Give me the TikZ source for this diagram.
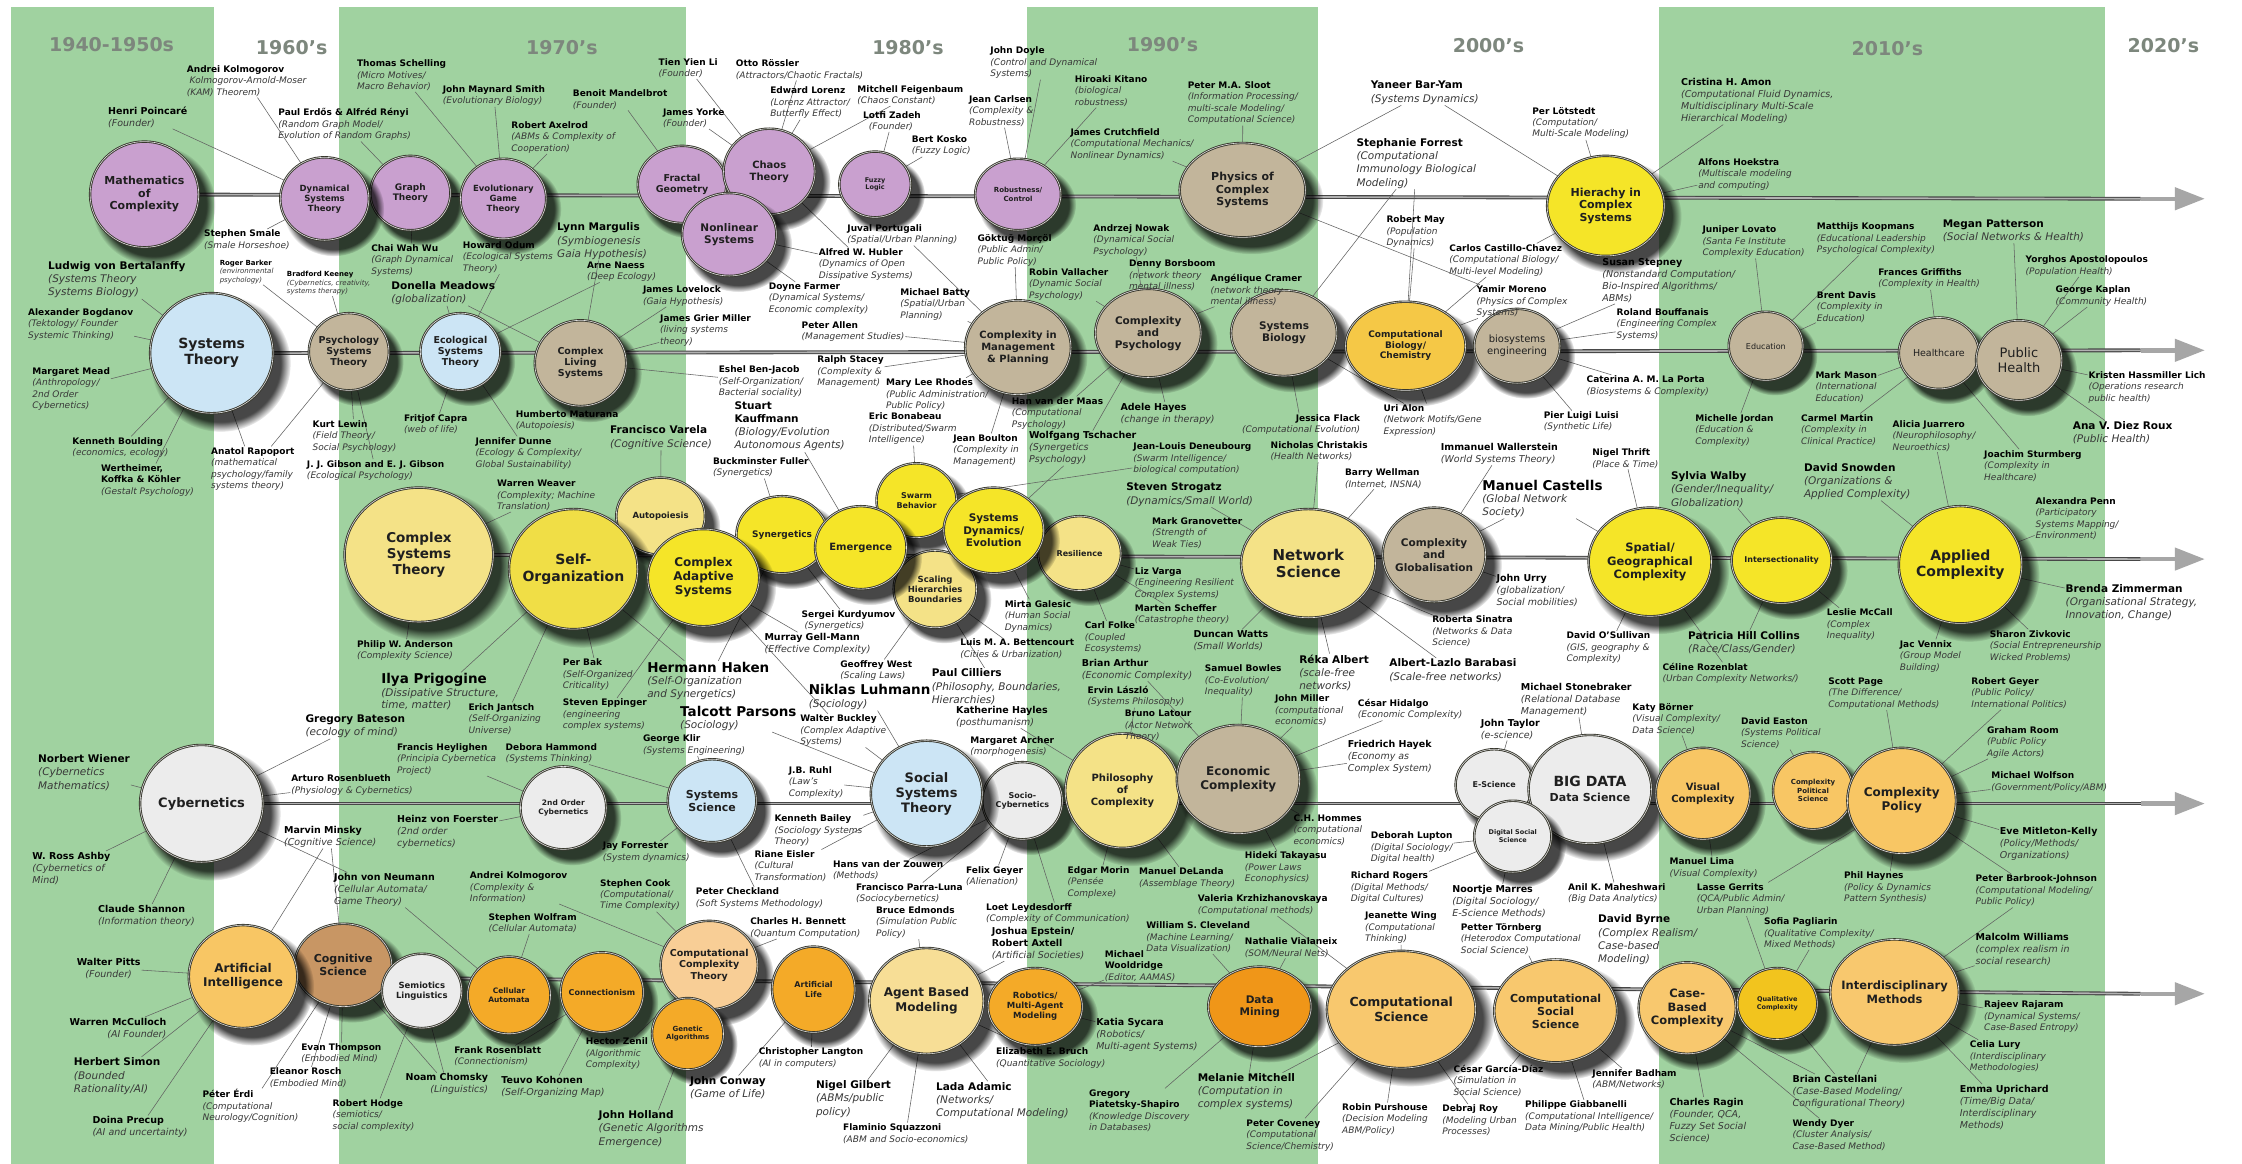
\documentclass[tikz,border=0pt]{standalone}
\usepackage{fontspec}
\setmainfont{DejaVu Sans}
\usetikzlibrary{shapes.geometric,shadows,arrows.meta}
\pgfdeclarelayer{bg}
\pgfdeclarelayer{conn}
\pgfsetlayers{bg,conn,main}
\definecolor{band}{RGB}{160,210,160}
\definecolor{decgray}{RGB}{125,135,125}
\definecolor{bord}{RGB}{55,55,45}
\definecolor{purp}{RGB}{201,160,207}
\definecolor{tan}{RGB}{194,181,155}
\definecolor{lblue}{RGB}{204,229,245}
\definecolor{pyel}{RGB}{244,226,135}
\definecolor{yel}{RGB}{245,229,40}
\definecolor{myel}{RGB}{240,222,70}
\definecolor{lgray}{RGB}{236,236,236}
\definecolor{lora}{RGB}{248,198,100}
\definecolor{brwn}{RGB}{200,150,100}
\definecolor{ora}{RGB}{244,170,40}
\definecolor{pora}{RGB}{248,206,150}
\definecolor{dora}{RGB}{240,150,24}
\definecolor{abmc}{RGB}{247,222,150}
\definecolor{csc}{RGB}{248,200,110}
\definecolor{qual}{RGB}{242,196,30}
\definecolor{cbio}{RGB}{245,200,70}
\tikzset{
  who/.style={anchor=north west,yshift=5.5pt,inner sep=0.8pt,align=left,text=black!78,font=\fontsize{9}{11.5}\selectfont\itshape},
  whoI/.style={who,font=\fontsize{9.5}{12}\selectfont\itshape},
  whoM/.style={who,font=\fontsize{10.5}{13.2}\selectfont\itshape},
  whoL/.style={who,font=\fontsize{10.5}{12.5}\selectfont\itshape},
  whoT/.style={who,font=\fontsize{7}{8.5}\selectfont\itshape},
  bubble/.style={ellipse,draw=bord,line width=0.9pt,double=white!75!gray,double distance=0.6pt,inner sep=0pt,outer sep=0pt,
    circular drop shadow={shadow xshift=8pt,shadow yshift=-9pt,shadow scale=1.14,opacity=0.72,fill=black}},
  btx/.style={align=center,inner sep=0pt,text=black!88},
  cn/.style={draw=black!62,line width=0.55pt},
  tline/.style={draw=black!72,line width=1.1pt,double=black!30,double distance=1.6pt},
  tarrow/.style={draw=black!35,line width=4.5pt,-{Triangle[length=30pt,width=22pt]}},
  dec/.style={font=\bfseries\fontsize{19}{21}\selectfont,text=decgray,inner sep=0pt},
}
\newcommand\nmx[1]{\textcolor{black}{\upshape\bfseries #1}}
\newcommand\perS[5]{\node[who,#3] (#1) at (#2) {\nmx{#4}\\#5};}
\newcommand\perT[5]{\node[whoT,#3] (#1) at (#2) {\nmx{#4}\\#5};}
\newcommand\perI[5]{\node[whoI,#3] (#1) at (#2) {\nmx{#4}\\#5};}
\newcommand\perM[5]{\node[whoM,#3] (#1) at (#2) {\nmx{#4}\\#5};}
\newcommand\perL[5]{\node[whoL,#3] (#1) at (#2) {{\fontsize{13.5}{16}\selectfont\nmx{#4}}\\#5};}
\newcommand\mkbub[8]{\node[bubble,fill=#5,minimum width={2.86*#3pt},minimum height={2.86*#4pt}] (#1) at (#2) {};
  \node[btx,font=\bfseries\fontsize{#6}{#7}\selectfont] (#1t) at (#1.center) {#8};}
\begin{document}
\begin{tikzpicture}[x=1.43pt,y=-1.43pt]
\begin{pgfonlayer}{bg}
\fill[white] (0,0) rectangle (1568,814);
\useasboundingbox (0,0) rectangle (1568,814);
\fill[band] (8,5) rectangle (150,814);
\fill[band] (237,5) rectangle (480,814);
\fill[band] (718,5) rectangle (922,814);
\fill[band] (1160,5) rectangle (1472,814);
\end{pgfonlayer}
% decades
\node[dec] (d1) at (78,31) {1940-1950s};
\node[dec] (d2) at (204,33) {1960's};
\node[dec] (d3) at (393,33) {1970's};
\node[dec] (d4) at (635,33) {1980's};
\node[dec] (d5) at (813,31) {1990's};
\node[dec] (d6) at (1041,32) {2000's};
\node[dec] (d7) at (1320,34) {2010's};
\node[dec] (d8) at (1513,32) {2020's};
% timeline coordinates
\foreach \i/\y in {1/139,2/245,3/391,4/562,5/695}{
  \coordinate (g\i) at (1497,\y);
  \coordinate (e\i) at (1542,\y);
}
% ---------- Row 1 bubbles
\mkbub{math}{101,136}{38}{37}{purp}{11}{12.5}{Mathematics\\of\\Complexity}
\mkbub{graph}{287,135}{28}{26}{purp}{9}{10.5}{Graph\\Theory}
\mkbub{dyn}{227,139}{31}{29}{purp}{8.5}{10}{Dynamical\\Systems\\Theory}
\mkbub{evol}{352,139}{30}{28}{purp}{8.5}{10}{Evolutionary\\Game\\Theory}
\mkbub{fractal}{477,129}{31}{27}{purp}{9.5}{11}{Fractal\\Geometry}
\mkbub{chaos}{538,120}{32}{30}{purp}{10}{11.5}{Chaos\\Theory}
\mkbub{nonlin}{510,164}{33}{29}{purp}{10.5}{12.5}{Nonlinear\\Systems}
\mkbub{fuzzy}{612,129}{25}{23}{purp}{6.5}{7.5}{Fuzzy\\Logic}
\mkbub{robust}{712,136}{30}{25}{purp}{7}{8.5}{Robustness/\\Control}
\mkbub{physics}{869,133}{44}{33}{tan}{11}{12.5}{Physics of\\Complex\\Systems}
\mkbub{hierarchy}{1123,144}{41}{35}{yel}{11}{12.5}{Hierachy in\\Complex\\Systems}
% ---------- Row 2 bubbles
\mkbub{systheory}{148,247}{43}{42}{lblue}{14}{16}{Systems\\Theory}
\mkbub{psych}{244,246}{28}{27}{tan}{9.5}{11}{Psychology\\Systems\\Theory}
\mkbub{ecol}{322,246}{28}{27}{lblue}{9.5}{11}{Ecological\\Systems\\Theory}
\mkbub{cliving}{406,254}{32}{30}{tan}{9.5}{11}{Complex\\Living\\Systems}
\mkbub{mgmt}{712,243}{37}{33}{tan}{10}{12}{Complexity in\\Management\\\& Planning}
\mkbub{cpsych}{803,233}{37}{31}{tan}{10.5}{12}{Complexity\\and\\Psychology}
\mkbub{sysbio}{898,233}{37}{30}{tan}{10.5}{12}{Systems\\Biology}
\mkbub{compbio}{983,242}{42}{31}{cbio}{9}{10.5}{Computational\\Biology/\\Chemistry}
\mkbub{biosys}{1061,242}{30}{26}{tan}{10}{12}{\mdseries biosystems\\\mdseries engineering}
\mkbub{education}{1235,242}{26}{24}{tan}{8}{9}{\mdseries Education}
\mkbub{healthcare}{1356,247}{28}{25}{tan}{9.5}{11}{\mdseries Healthcare}
\mkbub{publichealth}{1412,252}{30}{28}{tan}{13}{15}{\mdseries Public\\\mdseries Health}
% ---------- Row 3 bubbles
\mkbub{cst}{293,388}{52}{47}{pyel}{13.5}{16}{Complex\\Systems\\Theory}
\mkbub{autopoiesis}{462,361}{31}{27}{pyel}{8.5}{10}{Autopoiesis}
\mkbub{selforg}{401,398}{45}{42}{myel}{14}{16.5}{Self-\\Organization}
\mkbub{synergetics}{547,374}{32}{27}{yel}{9}{10.5}{Synergetics}
\mkbub{cas}{492,404}{39}{34}{yel}{12}{14}{Complex\\Adaptive\\Systems}
\mkbub{swarm}{641,350}{28}{26}{yel}{8}{9.5}{Swarm\\Behavior}
\mkbub{scaling}{654,412}{29}{27}{pyel}{8.5}{10}{Scaling\\Hierarchies\\Boundaries}
\mkbub{emergence}{602,383}{32}{29}{yel}{10}{12}{Emergence}
\mkbub{resilience}{755,387}{29}{26}{pyel}{8}{9.5}{Resilience}
\mkbub{sysdyn}{695,371}{35}{30}{yel}{10.5}{12.5}{Systems\\Dynamics/\\Evolution}
\mkbub{netsci}{915,394}{47}{38}{pyel}{15}{17.5}{Network\\Science}
\mkbub{glob}{1003,388}{36}{33}{tan}{10.5}{12.5}{Complexity\\and\\Globalisation}
\mkbub{spatial}{1154,393}{43}{38}{yel}{11.5}{13.5}{Spatial/\\Geographical\\Complexity}
\mkbub{intersect}{1246,392}{35}{30}{yel}{8}{9.5}{Intersectionality}
\mkbub{applied}{1371,395}{43}{41}{yel}{14}{16.5}{Applied\\Complexity}
% ---------- Row 4 bubbles
\mkbub{cyber}{141,562}{43}{41}{lgray}{13}{15}{Cybernetics}
\mkbub{secondorder}{394,565}{30}{29}{lgray}{7.5}{9}{2nd Order\\Cybernetics}
\mkbub{syssci}{498,560}{31}{29}{lblue}{11}{13}{Systems\\Science}
\mkbub{sociocyber}{715,560}{28}{27}{lgray}{8}{9.5}{Socio-\\Cybernetics}
\mkbub{socialsys}{648,555}{39}{37}{lblue}{13}{15}{Social\\Systems\\Theory}
\mkbub{philosophy}{785,553}{40}{40}{pyel}{10}{12}{Philosophy\\of\\Complexity}
\mkbub{economic}{866,545}{43}{38}{tan}{12}{14}{Economic\\Complexity}
\mkbub{escience}{1045,549}{27}{25}{lgray}{8}{9.5}{E-Science}
\mkbub{bigdata}{1112,552}{43}{38}{lgray}{14}{15}{BIG DATA\\{\fontsize{11}{13}\selectfont Data Science}}
\mkbub{digitalsoc}{1058,585}{27}{25}{lgray}{6.5}{8}{Digital Social\\Science}
\mkbub{visual}{1191,555}{33}{32}{lora}{10}{12}{Visual\\Complexity}
\mkbub{cpolsci}{1268,553}{28}{27}{lora}{7}{8.5}{Complexity\\Political\\Science}
\mkbub{cpolicy}{1330,560}{38}{37}{lora}{12}{14}{Complexity\\Policy}
% ---------- Row 5 bubbles
\mkbub{cogsci}{240,675}{34}{29}{brwn}{11}{13}{Cognitive\\Science}
\mkbub{ai}{170,683}{38}{36}{lora}{12}{14}{Artificial\\Intelligence}
\mkbub{semiotics}{295,693}{28}{26}{lgray}{8.5}{10}{Semiotics\\Linguistics}
\mkbub{cellular}{356,696}{29}{27}{ora}{7.5}{9}{Cellular\\Automata}
\mkbub{connect}{421,694}{29}{28}{ora}{8}{9.5}{Connectionism}
\mkbub{comptheory}{496,675}{34}{31}{pora}{9.5}{11.5}{Computational\\Complexity\\Theory}
\mkbub{genetic}{481,723}{25}{25}{ora}{7}{8.5}{Genetic\\Algorithms}
\mkbub{alife}{569,692}{29}{30}{ora}{8}{10}{Artificial\\Life}
\mkbub{abm}{648,700}{40}{37}{abmc}{12}{14.5}{Agent Based\\Modeling}
\mkbub{robotics}{724,704}{33}{27}{ora}{8.5}{10}{Robotics/\\Multi-Agent\\Modeling}
\mkbub{datamining}{881,704}{36}{28}{dora}{10.5}{12.5}{Data\\Mining}
\mkbub{compsci}{980,706}{52}{41}{csc}{12.5}{15}{Computational\\Science}
\mkbub{compsocsci}{1088,707}{43}{36}{csc}{11}{13}{Computational\\Social\\Science}
\mkbub{casebased}{1180,705}{34}{32}{csc}{11.5}{13.5}{Case-\\Based\\Complexity}
\mkbub{qualitative}{1243,702}{28}{25}{qual}{6.5}{8}{Qualitative\\Complexity}
\mkbub{interdisc}{1325,694}{45}{37}{csc}{11.5}{13.5}{Interdisciplinary\\Methods}
% ---------- People: row 1 top
\perS{kolmoA}{130,49}{}{Andrei Kolmogorov}{\ Kolmogorov-Arnold-Moser\\(KAM) Theorem)}
\perI{poincare}{75,78}{}{Henri Poincaré}{(Founder)}
\perS{schelling}{249,45}{}{Thomas Schelling}{(Micro Motives/\\Macro Behavior)}
\perS{erdos}{194,79}{}{Paul Erdős \& Alfréd Rényi}{(Random Graph Model/\\Evolution of Random Graphs)}
\perS{maynard}{309,63}{}{John Maynard Smith}{(Evolutionary Biology)}
\perS{axelrod}{357,88}{}{Robert Axelrod}{(ABMs \& Complexity of\\Cooperation)}
\perS{smale}{142,164}{}{Stephen Smale}{(Smale Horseshoe)}
\perS{mandelbrot}{400,66}{}{Benoit Mandelbrot}{(Founder)}
\perS{li}{460,44}{}{Tien Yien Li}{(Founder)}
\perS{rossler}{514,45}{}{Otto Rössler}{(Attractors/Chaotic Fractals)}
\perS{yorke}{463,79}{}{James Yorke}{(Founder)}
\perS{lorenz}{538,64}{}{Edward Lorenz}{(Lorenz Attractor/\\Butterfly Effect)}
\perS{feigenbaum}{599,63}{}{Mitchell Feigenbaum}{(Chaos Constant)}
\perS{zadeh}{603,81}{}{Lotfi Zadeh}{\ \ (Founder)}
\perS{kosko}{637,98}{}{Bert Kosko}{(Fuzzy Logic)}
\perS{doyle}{692,36}{}{John Doyle}{(Control and Dynamical\\Systems)}
\perS{carlsen}{677,70}{}{Jean Carlsen}{(Complexity \&\\Robustness)}
\perS{kitano}{751,56}{}{Hiroaki Kitano}{(biological\\robustness)}
\perS{crutchfield}{748,93}{}{James Crutchfield}{(Computational Mechanics/\\Nonlinear Dynamics)}
\perS{sloot}{830,60}{}{Peter M.A. Sloot}{(Information Processing/\\multi-scale Modeling/\\Computational Science)}
\perM{baryam}{958,60}{}{Yaneer Bar-Yam}{(Systems Dynamics)}
\perS{lotstedt}{1071,78}{}{Per Lötstedt}{(Computation/\\Multi-Scale Modeling)}
\perM{forrest}{948,100}{}{Stephanie Forrest}{(Computational\\Immunology Biological\\Modeling)}
\perI{amon}{1175,58}{}{Cristina H. Amon}{(Computational Fluid Dynamics,\\Multidisciplinary Multi-Scale\\Hierarchical Modeling)}
\perS{hoekstra}{1187,114}{}{Alfons Hoekstra}{(Multiscale modeling\\and computing)}
% ---------- between row 1 and row 2
\perS{chaiwu}{259,174}{}{Chai Wah Wu}{(Graph Dynamical\\Systems)}
\perS{odum}{323,172}{}{Howard Odum}{(Ecological Systems\\Theory)}
\perM{margulis}{389,159}{}{Lynn Margulis}{(Symbiogenesis\\Gaia Hypothesis)}
\perS{naess}{410,186}{}{Arne Naess}{(Deep Ecology)}
\perM{meadows}{273,200}{}{Donella Meadows}{(globalization)}
\perM{bertalanffy}{33,186}{}{Ludwig von Bertalanffy}{(Systems Theory\\Systems Biology)}
\perT{barker}{153,185}{}{Roger Barker}{(environmental\\psychology)}
\perT{keeney}{200,193}{}{Bradford Keeney}{(Cybernetics, creativity,\\systems therapy)}
\perS{bogdanov}{19,219}{}{Alexander Bogdanov}{(Tektology/ Founder\\Systemic Thinking)}
\perS{lovelock}{449,203}{}{James Lovelock}{(Gaia Hypothesis)}
\perS{miller}{461,223}{}{James Grier Miller}{(living systems\\theory)}
\perS{portugali}{592,160}{}{Juval Portugali}{(Spatial/Urban Planning)}
\perS{hubler}{572,177}{}{Alfred W. Hubler}{(Dynamics of Open\\Dissipative Systems)}
\perS{farmer}{537,201}{}{Doyne Farmer}{(Dynamical Systems/\\Economic complexity)}
\perS{batty}{629,205}{}{Michael Batty}{(Spatial/Urban\\Planning)}
\perS{allen}{560,228}{}{Peter Allen}{(Management Studies)}
\perS{morcol}{683,167}{}{Göktuğ Morçöl}{(Public Admin/\\Public Policy)}
\perS{vallacher}{719,191}{}{Robin Vallacher}{(Dynamic Social\\Psychology)}
\perS{nowak}{764,160}{}{Andrzej Nowak}{(Dynamical Social\\Psychology)}
\perS{borsboom}{789,185}{}{Denny Borsboom}{(network theory\\mental illness)}
\perS{cramer}{846,195}{}{Angélique Cramer}{(network theory\\mental illness)}
\perS{may}{969,154}{}{Robert May}{(Population\\Dynamics)}
\perS{castillo}{1013,174}{}{Carlos Castillo-Chavez}{(Computational Biology/\\Multi-level Modeling)}
\perS{moreno}{1032,203}{}{Yamir Moreno}{(Physics of Complex\\Systems)}
\perI{stepney}{1120,184}{}{Susan Stepney}{(Nonstandard Computation/\\Bio-Inspired Algorithms/\\ABMs)}
\perS{bouffanais}{1130,219}{}{Roland Bouffanais}{(Engineering Complex\\Systems)}
\perS{lovato}{1190,161}{}{Juniper Lovato}{(Santa Fe Institute\\Complexity Education)}
\perS{koopmans}{1270,159}{}{Matthijs Koopmans}{(Educational Leadership\\Psychological Complexity)}
\perM{patterson}{1358,157}{}{Megan Patterson}{(Social Networks \& Health)}
\perS{griffiths}{1313,191}{}{Frances Griffiths}{(Complexity in Health)}
\perS{apostolopoulos}{1416,182}{}{Yorghos Apostolopoulos}{(Population Health)}
\perS{davis}{1270,207}{}{Brent Davis}{(Complexity in\\Education)}
\perS{kaplan}{1437,203}{}{George Kaplan}{(Community Health)}
% ---------- between row 2 and row 3
\perS{mead}{22,260}{}{Margaret Mead}{(Anthropology/\\2nd Order\\Cybernetics)}
\perS{boulding}{50,309}{}{Kenneth Boulding}{(economics, ecology)}
\perS{rapoport}{147,316}{}{Anatol Rapoport}{(mathematical\\psychology/family\\systems theory)}
\node[who] (wertheimer) at (70,328) {\nmx{Wertheimer,}\\\nmx{Koffka \& Köhler}\\(Gestalt Psychology)};
\perS{lewin}{218,297}{}{Kurt Lewin}{(Field Theory/\\Social Psychology)}
\perS{capra}{282,293}{}{Fritjof Capra}{(web of life)}
\perS{gibson}{214,325}{}{J. J. Gibson and E. J. Gibson}{(Ecological Psychology)}
\perS{maturana}{360,290}{}{Humberto Maturana}{(Autopoiesis)}
\perS{dunne}{332,309}{}{Jennifer Dunne}{(Ecology \& Complexity/\\Global Sustainability)}
\perS{weaver}{347,339}{}{Warren Weaver}{(Complexity; Machine\\Translation)}
\perM{varela}{426,301}{}{Francisco Varela}{(Cognitive Science)}
\perS{benjacob}{502,259}{}{Eshel Ben-Jacob}{(Self-Organization/\\Bacterial sociality)}
\perS{stacey}{571,252}{}{Ralph Stacey}{(Complexity \&\\Management)}
\perS{rhodes}{619,268}{}{Mary Lee Rhodes}{(Public Administration/\\Public Policy)}
\node[whoM] (kauffmann) at (513,284) {\nmx{Stuart}\\\nmx{Kauffmann}\\(Biology/Evolution\\Autonomous Agents)};
\perS{fuller}{498,323}{}{Buckminster Fuller}{(Synergetics)}
\perS{bonabeau}{607,292}{}{Eric Bonabeau}{(Distributed/Swarm\\Intelligence)}
\perS{vandermaas}{707,281}{}{Han van der Maas}{(Computational\\Psychology)}
\perS{boulton}{666,307}{}{Jean Boulton}{(Complexity in\\Management)}
\perI{tschacher}{719,305}{}{Wolfgang Tschacher}{(Synergetics\\Psychology)}
\perI{hayes}{783,285}{}{Adele Hayes}{(change in therapy)}
\perS{deneubourg}{792,313}{}{Jean-Louis Deneubourg}{(Swarm Intelligence/\\biological computation)}
\perS{flack}{952,293}{anchor=north east,align=right}{Jessica Flack}{(Computational Evolution)}
\perS{alon}{967,286}{}{Uri Alon}{(Network Motifs/Gene\\Expression)}
\perS{luisi}{1079,291}{}{Pier Luigi Luisi}{(Synthetic Life)}
\perS{laporta}{1109,266}{}{Caterina A. M. La Porta}{(Biosystems \& Complexity)}
\perS{christakis}{888,312}{}{Nicholas Christakis}{(Health Networks)}
\perI{wallerstein}{1007,313}{}{Immanuel Wallerstein}{(World Systems Theory)}
\perS{thrift}{1113,317}{}{Nigel Thrift}{(Place \& Time)}
\perS{wellman}{940,331}{}{Barry Wellman}{(Internet, INSNA)}
\perM{strogatz}{787,341}{}{Steven Strogatz}{(Dynamics/Small World)}
\perL{castells}{1036,339}{}{Manuel Castells}{(Global Network\\Society)}
\perS{granovetter}{805,365}{}{Mark Granovetter}{(Strength of\\Weak Ties)}
\perS{varga}{793,400}{}{Liz Varga}{(Engineering Resilient\\Complex Systems)}
\perS{scheffer}{793,426}{}{Marten Scheffer}{(Catastrophe theory)}
\perI{urry}{1046,405}{}{John Urry}{(globalization/\\Social mobilities)}
\perS{sinatra}{1001,434}{}{Roberta Sinatra}{(Networks \& Data\\Science)}
\perS{osullivan}{1095,445}{}{David O'Sullivan}{(GIS, geography \&\\Complexity)}
\perS{jordan}{1185,293}{}{Michelle Jordan}{(Education \&\\Complexity)}
\perS{mason}{1269,263}{}{Mark Mason}{(International\\Education)}
\perS{martin}{1259,293}{}{Carmel Martin}{(Complexity in\\Clinical Practice)}
\perS{juarrero}{1323,297}{}{Alicia Juarrero}{(Neurophilosophy/\\Neuroethics)}
\perS{lich}{1460,263}{}{Kristen Hassmiller Lich}{(Operations research\\public health)}
\perM{diezroux}{1449,298}{}{Ana V. Diez Roux}{(Public Health)}
\perS{sturmberg}{1387,318}{}{Joachim Sturmberg}{(Complexity in\\Healthcare)}
\perM{walby}{1168,333}{}{Sylvia Walby}{(Gender/Inequality/\\Globalization)}
\perM{snowden}{1261,327}{}{David Snowden}{(Organizations \&\\Applied Complexity)}
\perS{penn}{1423,351}{}{Alexandra Penn}{(Participatory\\Systems Mapping/\\Environment)}
\perM{zimmerman}{1444,412}{}{Brenda Zimmerman}{(Organisational Strategy,\\Innovation, Change)}
\perS{mccall}{1277,429}{}{Leslie McCall}{(Complex\\Inequality)}
\perM{hillcollins}{1180,445}{}{Patricia Hill Collins}{(Race/Class/Gender)}
\perS{vennix}{1328,451}{}{Jac Vennix}{(Group Model\\Building)}
\perS{zivkovic}{1391,444}{}{Sharon Zivkovic}{(Social Entrepreneurship\\Wicked Problems)}
\perS{rozenblat}{1162,467}{}{Céline Rozenblat}{(Urban Complexity Networks/)}
% ---------- between row 3 and row 4
\perS{anderson}{249,451}{}{Philip W. Anderson}{(Complexity Science)}
\perL{prigogine}{266,474}{}{Ilya Prigogine}{(Dissipative Structure,\\time, matter)}
\perS{bak}{393,464}{}{Per Bak}{(Self-Organized\\Criticality)}
\perS{jantsch}{327,495}{}{Erich Jantsch}{(Self-Organizing\\Universe)}
\perL{haken}{452,466}{}{Hermann Haken}{(Self-Organization\\and Synergetics)}
\perS{kurdyumov}{560,430}{}{Sergei Kurdyumov}{\ (Synergetics)}
\perI{gellmann}{534,446}{}{Murray Gell-Mann}{(Effective Complexity)}
\perS{eppinger}{393,492}{}{Steven Eppinger}{(engineering\\complex systems)}
\perL{parsons}{475,497}{}{Talcott Parsons}{(Sociology)}
\perS{gwest}{587,465}{}{Geoffrey West}{(Scaling Laws)}
\perL{luhmann}{565,482}{}{Niklas Luhmann}{(Sociology)}
\perM{cilliers}{651,471}{}{Paul Cilliers}{(Philosophy, Boundaries,\\Hierarchies)}
\perS{bettencourt}{671,450}{}{Luis M. A. Bettencourt}{(Cities \& Urbanization)}
\perS{galesic}{702,423}{}{Mirta Galesic}{(Human Social\\Dynamics)}
\perS{folke}{758,438}{}{Carl Folke}{(Coupled\\Ecosystems)}
\perI{arthur}{756,464}{}{Brian Arthur}{(Economic Complexity)}
\perS{laszlo}{760,483}{}{Ervin László}{(Systems Philosophy)}
\perS{buckley}{559,503}{}{Walter Buckley}{(Complex Adaptive\\Systems)}
\perI{hayles}{668,497}{}{Katherine Hayles}{(posthumanism)}
\perS{klir}{449,517}{}{George Klir}{(Systems Engineering)}
\perS{archer}{678,518}{}{Margaret Archer}{(morphogenesis)}
\perS{bowles}{842,468}{}{Samuel Bowles}{(Co-Evolution/\\Inequality)}
\perI{watts}{834,444}{}{Duncan Watts}{(Small Worlds)}
\perM{albert}{908,461}{}{Réka Albert}{(scale-free\\networks)}
\perM{barabasi}{971,464}{}{Albert-Lazlo Barabasi}{(Scale-free networks)}
\perS{latour}{786,500}{}{Bruno Latour}{(Actor Network\\Theory)}
\perS{jmiller}{891,489}{}{John Miller}{(computational\\economics)}
\perS{hidalgo}{949,492}{}{César Hidalgo}{(Economic Complexity)}
\perI{stonebraker}{1063,481}{}{Michael Stonebraker}{(Relational Database\\Management)}
\perS{borner}{1141,495}{}{Katy Börner}{(Visual Complexity/\\Data Science)}
\perI{taylor}{1035,506}{}{John Taylor}{(e-science)}
\perI{hayek}{942,521}{}{Friedrich Hayek}{(Economy as\\Complex System)}
\perS{page}{1278,477}{}{Scott Page}{(The Difference/\\Computational Methods)}
\perS{geyer}{1378,477}{}{Robert Geyer}{(Public Policy/\\International Politics)}
\perS{easton}{1217,505}{}{David Easton}{(Systems Political\\Science)}
\perS{room}{1389,511}{}{Graham Room}{(Public Policy\\Agile Actors)}
\perS{wolfson}{1392,543}{}{Michael Wolfson}{(Government/Policy/ABM)}
\perM{bateson}{213,503}{}{Gregory Bateson}{(ecology of mind)}
\perM{wiener}{26,531}{}{Norbert Wiener}{(Cybernetics\\Mathematics)}
\perS{heylighen}{277,523}{}{Francis Heylighen}{(Principia Cybernetica\\Project)}
\perS{hammond}{353,523}{}{Debora Hammond}{(Systems Thinking)}
\perS{rosenblueth}{203,545}{}{Arturo Rosenblueth}{(Physiology \& Cybernetics)}
\perS{ruhl}{551,539}{}{J.B. Ruhl}{(Law's\\Complexity)}
% ---------- between row 4 and row 5
\perS{bailey}{541,573}{}{Kenneth Bailey}{(Sociology Systems\\Theory)}
\perS{eisler}{527,598}{}{Riane Eisler}{(Cultural\\Transformation)}
\perS{zouwen}{582,605}{}{Hans van der Zouwen}{(Methods)}
\perS{fgeyer}{675,609}{}{Felix Geyer}{(Alienation)}
\perI{foerster}{277,573}{}{Heinz von Foerster}{(2nd order\\cybernetics)}
\perI{minsky}{198,581}{}{Marvin Minsky}{(Cognitive Science)}
\perI{ashby}{22,599}{}{W. Ross Ashby}{(Cybernetics of\\Mind)}
\perI{shannon}{68,636}{}{Claude Shannon}{(Information theory)}
\perS{forrester}{421,592}{}{Jay Forrester}{(System dynamics)}
\perI{neumann}{233,614}{}{John von Neumann}{(Cellular Automata/\\Game Theory)}
\perS{kolmoB}{328,613}{}{Andrei Kolmogorov}{(Complexity \&\\Information)}
\perS{wolfram}{341,642}{}{Stephen Wolfram}{(Cellular Automata)}
\perS{cook}{419,618}{}{Stephen Cook}{(Computational/\\Time Complexity)}
\perS{checkland}{486,624}{}{Peter Checkland}{(Soft Systems Methodology)}
\perS{parraluna}{598,621}{}{Francisco Parra-Luna}{(Sociocybernetics)}
\perS{edmonds}{612,637}{}{Bruce Edmonds}{(Simulation Public\\Policy)}
\perS{leydesdorff}{689,635}{}{Loet Leydesdorff}{(Complexity of Communication)}
\perS{morin}{746,609}{}{Edgar Morin}{(Pensée\\Complexe)}
\perS{delanda}{796,610}{}{Manuel DeLanda}{(Assemblage Theory)}
\perS{takayasu}{870,599}{}{Hideki Takayasu}{(Power Laws\\Econophysics)}
\perS{hommes}{904,573}{}{C.H. Hommes}{(computational\\economics)}
\perS{lupton}{958,585}{}{Deborah Lupton}{(Digital Sociology/\\Digital health)}
\perS{rogers}{944,613}{}{Richard Rogers}{(Digital Methods/\\Digital Cultures)}
\perI{marres}{1015,622}{}{Noortje Marres}{(Digital Sociology/\\E-Science Methods)}
\perS{maheshwari}{1096,621}{}{Anil K. Maheshwari}{(Big Data Analytics)}
\perM{byrne}{1117,643}{}{David Byrne}{(Complex Realism/\\Case-based\\Modeling)}
\perS{wing}{954,641}{}{Jeanette Wing}{(Computational\\Thinking)}
\perS{tornberg}{1021,649}{}{Petter Törnberg}{(Heterodox Computational\\Social Science)}
\perS{krzhi}{837,629}{}{Valeria Krzhizhanovskaya}{(Computational methods)}
\perS{cleveland}{801,648}{}{William S. Cleveland}{(Machine Learning/\\Data Visualization)}
\perS{vialaneix}{870,659}{}{Nathalie Vialaneix}{(SOM/Neural Nets)}
\node[who] (wooldridge) at (772,668) {\nmx{Michael}\\\nmx{Wooldridge}\\(Editor, AAMAS)};
\perS{bennett}{524,645}{}{Charles H. Bennett}{(Quantum Computation)}
\node[whoI] (epstein) at (693,652) {\nmx{Joshua Epstein/}\\\nmx{Robert Axtell}\\(Artificial Societies)};
\perS{lima}{1167,603}{}{Manuel Lima}{(Visual Complexity)}
\perS{gerrits}{1186,621}{}{Lasse Gerrits}{(QCA/Public Admin/\\Urban Planning)}
\perS{haynes}{1289,613}{}{Phil Haynes}{(Policy \& Dynamics\\Pattern Synthesis)}
\perI{mitleton}{1398,582}{}{Eve Mitleton-Kelly}{(Policy/Methods/\\Organizations)}
\perS{barbrook}{1381,615}{}{Peter Barbrook-Johnson}{(Computational Modeling/\\Public Policy)}
\perS{pagliarin}{1233,645}{}{Sofia Pagliarin}{(Qualitative Complexity/\\Mixed Methods)}
\perI{williams}{1381,656}{}{Malcolm Williams}{(complex realism in\\social research)}
% ---------- below row 5
\perS{rajaram}{1387,703}{}{Rajeev Rajaram}{(Dynamical Systems/\\Case-Based Entropy)}
\perS{lury}{1377,731}{}{Celia Lury}{(Interdisciplinary\\Methodologies)}
\perI{uprichard}{1370,762}{}{Emma Uprichard}{(Time/Big Data/\\Interdisciplinary\\Methods)}
\perI{castellani}{1253,755}{}{Brian Castellani}{(Case-Based Modeling/\\Configurational Theory)}
\perS{dyer}{1253,786}{}{Wendy Dyer}{(Cluster Analysis/\\Case-Based Method)}
\perI{ragin}{1167,771}{}{Charles Ragin}{(Founder, QCA,\\Fuzzy Set Social\\Science)}
\perS{badham}{1113,751}{}{Jennifer Badham}{(ABM/Networks)}
\perS{giabbanelli}{1066,773}{}{Philippe Giabbanelli}{(Computational Intelligence/\\Data Mining/Public Health)}
\perS{garcia}{1016,748}{}{César García-Díaz}{(Simulation in\\Social Science)}
\perS{roy}{1008,776}{}{Debraj Roy}{(Modeling Urban\\Processes)}
\perS{purshouse}{938,775}{}{Robin Purshouse}{(Decision Modeling\\ABM/Policy)}
\perS{coveney}{871,786}{}{Peter Coveney}{(Computational\\Science/Chemistry)}
\perM{mitchell}{837,754}{}{Melanie Mitchell}{(Computation in\\complex systems)}
\node[who] (piatetsky) at (761,765) {\nmx{Gregory}\\\nmx{Piatetsky-Shapiro}\\(Knowledge Discovery\\in Databases)};
\perI{sycara}{766,715}{}{Katia Sycara}{(Robotics/\\Multi-agent Systems)}
\perS{bruch}{696,736}{}{Elizabeth E. Bruch}{(Quantitative Sociology)}
\perM{adamic}{654,760}{}{Lada Adamic}{(Networks/\\Computational Modeling)}
\perS{squazzoni}{589,789}{}{Flaminio Squazzoni}{(ABM and Socio-economics)}
\perM{gilbert}{570,759}{}{Nigel Gilbert}{(ABMs/public\\policy)}
\perS{langton}{530,736}{}{Christopher Langton}{(AI in computers)}
\perM{conway}{482,756}{}{John Conway}{(Game of Life)}
\perM{holland}{418,780}{}{John Holland}{(Genetic Algorithms\\Emergence)}
\perS{zenil}{409,729}{}{Hector Zenil}{(Algorithmic\\Complexity)}
\perI{kohonen}{350,756}{}{Teuvo Kohonen}{(Self-Organizing Map)}
\perS{rosenblatt}{317,735}{}{Frank Rosenblatt}{(Connectionism)}
\perI{chomsky}{342,754}{anchor=north east,align=right}{Noam Chomsky}{(Linguistics)}
\perS{hodge}{232,772}{}{Robert Hodge}{(semiotics/\\social complexity)}
\perS{thompson}{210,733}{}{Evan Thompson}{(Embodied Mind)}
\perS{rosch}{188,750}{}{Eleanor Rosch}{(Embodied Mind)}
\perS{erdi}{141,765}{}{Péter Érdi}{(Computational\\Neurology/Cognition)}
\perI{pitts}{53,673}{align=center}{Walter Pitts}{(Founder)}
\perI{mcculloch}{117,715}{anchor=north east,align=right}{Warren McCulloch}{(AI Founder)}
\perM{simon}{51,743}{}{Herbert Simon}{(Bounded\\Rationality/AI)}
\perI{precup}{64,784}{}{Doina Precup}{(AI and uncertainty)}
% ---------- timelines and connectors
\begin{pgfonlayer}{conn}
\draw[tline] (math) -- (g1);
\draw[tline] (systheory) -- (g2);
\draw[tline] (cst) -- (g3);
\draw[tline] (cyber) -- (g4);
\draw[tline] (ai) -- (g5);
\foreach \i in {1,...,5}{\draw[tarrow] (g\i) -- (e\i);}
\foreach \a/\b in {kolmoA/dyn,poincare/dyn,erdos/graph,schelling/evol,maynard/evol,axelrod/evol,smale/dyn,
 mandelbrot/fractal,li/chaos,yorke/chaos,rossler/chaos,lorenz/chaos,feigenbaum/chaos,zadeh/fuzzy,kosko/fuzzy,
 doyle/robust,carlsen/robust,kitano/robust,crutchfield/physics,sloot/physics,baryam/physics,baryam/hierarchy,
 lotstedt/hierarchy,amon/hierarchy,hoekstra/hierarchy,forrest/compbio,forrest/sysbio,chaiwu/graph,odum/ecol,
 margulis/cliving,naess/ecol,meadows/cliving,meadows/ecol,bertalanffy/systheory,barker/psych,keeney/psych,
 bogdanov/systheory,lovelock/cliving,miller/cliving,portugali/mgmt,hubler/nonlin,hubler/chaos,farmer/nonlin,
 batty/mgmt,allen/mgmt,morcol/mgmt,vallacher/cpsych,nowak/cpsych,borsboom/cpsych,cramer/cpsych,may/compbio,
 castillo/compbio,castillo/hierarchy,moreno/compbio,moreno/physics,stepney/biosys,bouffanais/biosys,
 lovato/education,koopmans/education,patterson/publichealth,griffiths/healthcare,apostolopoulos/publichealth,
 davis/education,kaplan/publichealth,mead/systheory,boulding/systheory,rapoport/systheory,rapoport/psych,
 wertheimer/systheory,lewin/psych,capra/ecol,gibson/psych,maturana/cliving,dunne/ecol,weaver/cst,
 varela/autopoiesis,benjacob/cliving,stacey/mgmt,rhodes/mgmt,kauffmann/emergence,fuller/synergetics,
 bonabeau/swarm,vandermaas/cpsych,boulton/mgmt,tschacher/sysdyn,tschacher/cpsych,hayes/cpsych,deneubourg/swarm,
 flack/sysbio,alon/sysbio,alon/compbio,luisi/biosys,laporta/biosys,christakis/netsci,wallerstein/glob,
 thrift/spatial,wellman/netsci,castells/glob,castells/spatial,strogatz/netsci,granovetter/netsci,
 varga/resilience,scheffer/resilience,urry/glob,sinatra/netsci,osullivan/spatial,mccall/intersect,
 zimmerman/applied,vennix/applied,zivkovic/applied,hillcollins/intersect,walby/intersect,snowden/applied,
 penn/applied,jordan/education,mason/healthcare,martin/healthcare,juarrero/applied,lich/publichealth,
 diezroux/publichealth,sturmberg/healthcare,rozenblat/spatial,anderson/cst,prigogine/selforg,bak/selforg,
 jantsch/selforg,haken/synergetics,haken/selforg,kurdyumov/synergetics,gellmann/cas,eppinger/cas,
 parsons/socialsys,gwest/scaling,luhmann/socialsys,cilliers/scaling,bettencourt/scaling,galesic/sysdyn,
 folke/resilience,arthur/economic,laszlo/philosophy,buckley/cas,buckley/socialsys,hayles/philosophy,
 klir/syssci,archer/sociocyber,bowles/economic,watts/netsci,albert/netsci,barabasi/netsci,latour/philosophy,
 jmiller/economic,hidalgo/economic,stonebraker/bigdata,borner/visual,taylor/escience,hayek/economic,
 page/cpolicy,geyer/cpolicy,easton/cpolsci,room/cpolicy,wolfson/cpolicy,bateson/cyber,wiener/cyber,
 heylighen/secondorder,hammond/syssci,rosenblueth/cyber,ruhl/socialsys,bailey/socialsys,eisler/socialsys,
 zouwen/sociocyber,fgeyer/sociocyber,foerster/secondorder,minsky/ai,minsky/cogsci,ashby/cyber,shannon/cyber,
 forrester/syssci,neumann/cellular,neumann/cyber,kolmoB/comptheory,wolfram/cellular,cook/comptheory,
 checkland/syssci,parraluna/sociocyber,edmonds/abm,leydesdorff/sociocyber,morin/philosophy,delanda/philosophy,
 takayasu/economic,hommes/economic,lupton/digitalsoc,rogers/digitalsoc,marres/digitalsoc,maheshwari/bigdata,
 byrne/casebased,wing/compsci,tornberg/compsocsci,krzhi/compsci,cleveland/datamining,vialaneix/datamining,
 wooldridge/robotics,bennett/comptheory,epstein/abm,lima/visual,gerrits/cpolicy,gerrits/qualitative,
 haynes/cpolicy,mitleton/cpolicy,barbrook/cpolicy,barbrook/interdisc,pagliarin/qualitative,williams/interdisc,
 rajaram/interdisc,lury/interdisc,uprichard/interdisc,castellani/casebased,castellani/interdisc,
 castellani/qualitative,dyer/casebased,ragin/casebased,badham/compsocsci,giabbanelli/compsocsci,
 garcia/compsocsci,roy/compsci,purshouse/compsci,coveney/compsci,mitchell/compsci,mitchell/datamining,
 piatetsky/datamining,sycara/robotics,bruch/abm,adamic/abm,squazzoni/abm,gilbert/abm,langton/alife,
 conway/alife,holland/genetic,zenil/comptheory,kohonen/connect,rosenblatt/connect,chomsky/semiotics,
 chomsky/cogsci,hodge/semiotics,thompson/cogsci,rosch/cogsci,erdi/cogsci,pitts/ai,mcculloch/ai,simon/ai,
 precup/ai}{\draw[cn] (\a) -- (\b);}
\end{pgfonlayer}
\end{tikzpicture}
\end{document}
